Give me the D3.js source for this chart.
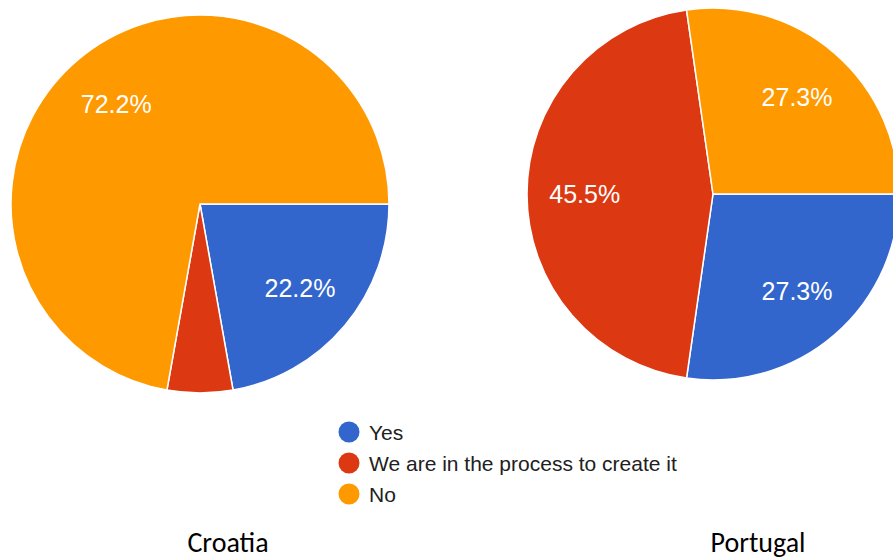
<!DOCTYPE html>
<html>
<head>
<meta charset="utf-8">
<script src="https://cdn.jsdelivr.net/npm/d3@7"></script>
<style>
  html, body { margin: 0; padding: 0; background: #fff; }
  svg { display: block; }
</style>
</head>
<body>
<svg id="chart" width="893" height="559"></svg>
<script>
// Survey answers per country (share of respondents, %)
const categories = ["Yes", "We are in the process to create it", "No"];
const croatiaValues = [22.2, 5.6, 72.2];
const portugalValues = [27.3, 45.5, 27.3];
const countries = ["Croatia", "Portugal"];
const colors = ["#3366cc", "#dc3912", "#ff9900"];

const svg = d3.select("#chart");
const color = d3.scaleOrdinal().domain(categories).range(colors);

// Slices start at 3 o'clock and run clockwise, in category order
const pie = d3.pie()
  .sort(null)
  .value(d => d.value)
  .startAngle(Math.PI / 2)
  .endAngle(Math.PI / 2 + 2 * Math.PI);

const charts = [
  { name: countries[0], values: croatiaValues, cx: 200, cy: 204, r: 189, titleX: 228 },
  { name: countries[1], values: portugalValues, cx: 713, cy: 194, r: 186, titleX: 758 }
];

charts.forEach(c => {
  const data = categories.map((k, i) => ({ key: k, value: c.values[i] }));
  const arcs = pie(data);
  const arc = d3.arc().innerRadius(0).outerRadius(c.r);
  const labelArc = d3.arc().innerRadius(c.r * 0.69).outerRadius(c.r * 0.69);

  const g = svg.append("g").attr("transform", `translate(${c.cx},${c.cy})`);

  g.selectAll("path")
    .data(arcs)
    .join("path")
    .attr("d", arc)
    .attr("fill", d => color(d.data.key))
    .attr("stroke", "#fff")
    .attr("stroke-width", 1.5)
    .attr("stroke-linejoin", "round");

  // Percentage labels; thin slices stay unlabelled
  g.selectAll("text.pct")
    .data(arcs.filter(d => d.endAngle - d.startAngle > 0.5))
    .join("text")
    .attr("class", "pct")
    .attr("transform", d => `translate(${labelArc.centroid(d)})`)
    .attr("text-anchor", "middle")
    .attr("dy", "0.36em")
    .attr("fill", "#fff")
    .style("font-family", "'Liberation Sans', Arial, sans-serif")
    .style("font-size", "25px")
    .text(d => d.data.value.toFixed(1) + "%");

  svg.append("text")
    .attr("x", c.titleX)
    .attr("y", 552)
    .attr("text-anchor", "middle")
    .attr("fill", "#000")
    .style("font-family", "Carlito, Calibri, Lato, sans-serif")
    .style("font-size", "28px")
    .text(c.name);
});

// Shared legend
const legend = svg.append("g").attr("transform", "translate(349,432)");
const rows = legend.selectAll("g")
  .data(categories)
  .join("g")
  .attr("transform", (d, i) => `translate(0,${i * 31})`);

rows.append("circle")
  .attr("r", 10.5)
  .attr("fill", d => color(d));

rows.append("text")
  .attr("x", 20)
  .attr("dy", "0.36em")
  .attr("fill", "#212121")
  .style("font-family", "'Liberation Sans', Arial, sans-serif")
  .style("font-size", "21px")
  .text(d => d);
</script>
</body>
</html>
